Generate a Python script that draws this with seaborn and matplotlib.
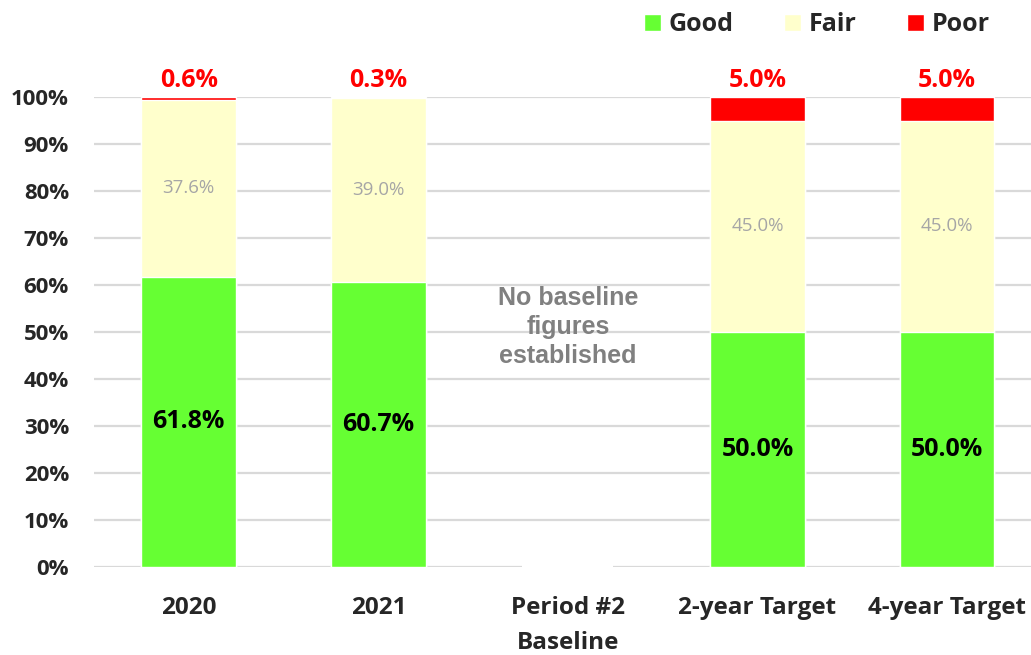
import matplotlib
matplotlib.use("Agg")
import matplotlib.pyplot as plt
import seaborn as sns
import numpy as np
import pandas as pd
from matplotlib.patches import Patch

# data
categories = ["2020", "2021", "Period #2\nBaseline", "2-year Target", "4-year Target"]
good = [61.8, 60.7, np.nan, 50.0, 50.0]
fair = [37.6, 39.0, np.nan, 45.0, 45.0]
poor = [0.6, 0.3, np.nan, 5.0, 5.0]

GREEN = "#66FF33"
CREAM = "#FFFFCC"
RED = "#FF0000"
GRID = "#D9D9D9"

sns.set_style("white")
plt.rcParams["font.family"] = ["Open Sans", "DejaVu Sans"]

df = pd.DataFrame({"cat": categories, "good": good, "fair": fair, "poor": poor})
df["good_fair"] = df["good"] + df["fair"]
df["total"] = df["good_fair"] + df["poor"]

fig = plt.figure(figsize=(10.31, 6.55), dpi=100)
ax = fig.add_axes([94 / 1031, 88 / 655, 942 / 1031, 470 / 655])

# stacked bars drawn as overlapping cumulative totals
sns.barplot(data=df, x="cat", y="total", order=categories, color=RED,
            width=0.5, errorbar=None, saturation=1, ax=ax, zorder=3)
sns.barplot(data=df, x="cat", y="good_fair", order=categories, color=CREAM,
            width=0.5, errorbar=None, saturation=1, ax=ax, zorder=3)
sns.barplot(data=df, x="cat", y="good", order=categories, color=GREEN,
            width=0.5, errorbar=None, saturation=1, ax=ax, zorder=3)

ax.set_xlim(-0.5, 4.47)
ax.set_ylim(0, 100)
ax.set_yticks(np.arange(0, 101, 10))
ax.set_yticklabels([f"{v}%" for v in range(0, 101, 10)])
ax.yaxis.grid(True, color=GRID, linewidth=1.6, zorder=0)
ax.set_axisbelow(True)
sns.despine(ax=ax, left=True, bottom=True)
ax.set_xlabel("")
ax.set_ylabel("")
ax.tick_params(axis="y", length=0, pad=18, labelsize=16)
ax.tick_params(axis="x", length=0, pad=21, labelsize=17.5)
for lbl in ax.get_xticklabels() + ax.get_yticklabels():
    lbl.set_fontweight("bold")
for lbl in ax.get_xticklabels():
    lbl.set_linespacing(1.6)

# gap in the baseline under the empty category
ax.plot([1.76, 2.24], [0, 0], color="white", linewidth=3, zorder=1, solid_capstyle="butt")

# value labels
for i in range(len(categories)):
    if np.isnan(good[i]):
        continue
    ax.text(i, good[i] / 2, f"{good[i]:.1f}%", ha="center", va="center",
            fontsize=18, fontweight="bold", color="black", zorder=4)
    ax.text(i, good[i] + fair[i] / 2, f"{fair[i]:.1f}%", ha="center", va="center",
            fontsize=13.5, color="#A6A6A6", zorder=4)
    ax.text(i, 103.6, f"{poor[i]:.1f}%", ha="center", va="center",
            fontsize=18, fontweight="bold", color=RED, zorder=4)

ax.text(2, 51, "No baseline\nfigures\nestablished", ha="center", va="center",
        fontsize=18, fontweight="bold", color="#808080", linespacing=1.27,
        family=["Liberation Sans", "DejaVu Sans"], zorder=4)

handles = [Patch(facecolor=GREEN, label="Good"),
           Patch(facecolor=CREAM, label="Fair"),
           Patch(facecolor=RED, label="Poor")]
fig.legend(handles=handles, loc="upper right", bbox_to_anchor=(0.982, 1.016),
           ncol=3, frameon=False, handlelength=0.68, handleheight=0.68,
           handletextpad=0.32, columnspacing=2.0,
           prop={"weight": "bold", "size": 18})

fig.savefig("out.png", dpi=100)
